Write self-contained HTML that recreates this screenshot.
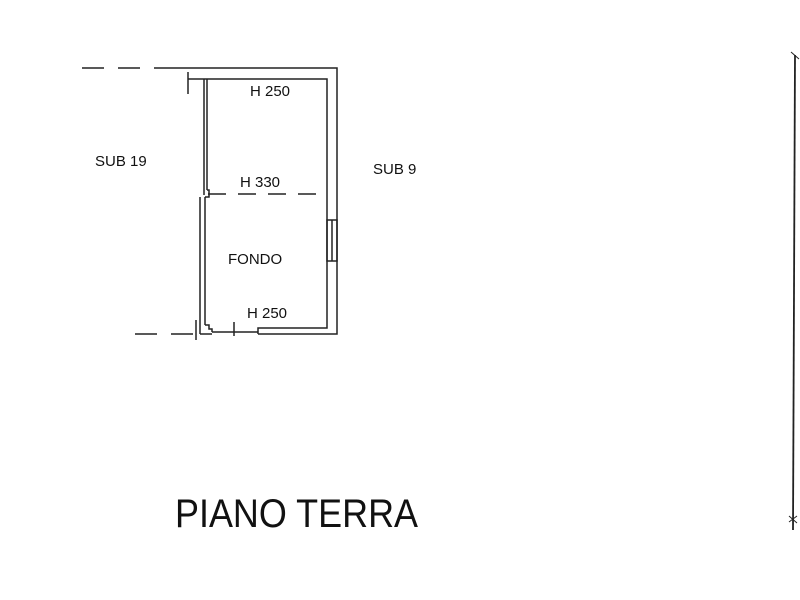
<!DOCTYPE html>
<html><head><style>
body{margin:0;background:#fff}
svg{display:block}
text{font-family:"Liberation Sans",Arial,sans-serif;fill:#111}
</style></head><body>
<svg width="800" height="600" viewBox="0 0 800 600" xmlns="http://www.w3.org/2000/svg">
<g stroke="#222" stroke-width="1.5" fill="none">
<!-- outer walls -->
<polyline points="165,68 337,68 337,334 258,334"/>
<polyline points="204,79 327,79 327,328 258,328 258,334"/>
<!-- left wall upper -->
<line x1="207" y1="79" x2="207" y2="190"/>
<line x1="204" y1="79" x2="204" y2="195"/>
<polyline points="207,190 209,190 209,197 205,197"/>
<line x1="200" y1="197" x2="200" y2="328"/>
<line x1="205" y1="197" x2="205" y2="325"/>
<polyline points="205,325 209,325 209,329 212,329 212,332"/>
<line x1="200" y1="328" x2="200" y2="334"/>
<line x1="200" y1="334" x2="212" y2="334"/>
<line x1="212" y1="332" x2="258" y2="332"/>
<line x1="234" y1="322" x2="234" y2="336"/>
<line x1="196" y1="320" x2="196" y2="340"/>
<!-- top left tick -->
<line x1="188" y1="72" x2="188" y2="94"/>
<line x1="188" y1="79" x2="204" y2="79"/>
<!-- window -->
<rect x="327" y="220" width="10" height="41"/>
<line x1="332" y1="220" x2="332" y2="261"/>
<!-- dashed lines -->
<line x1="82" y1="68" x2="165" y2="68" stroke-dasharray="22,14"/>
<line x1="135" y1="334" x2="196" y2="334" stroke-dasharray="22,14"/>
<line x1="208" y1="194" x2="327" y2="194" stroke-dasharray="18,12"/>
<!-- right line -->
<line x1="795" y1="55" x2="793" y2="530" stroke-width="1.8"/>
<line x1="791" y1="52" x2="799" y2="59" stroke-width="1"/>
<line x1="789" y1="516" x2="797" y2="523" stroke-width="1"/>
<line x1="789" y1="522" x2="797" y2="516" stroke-width="1"/>
</g>
<text x="250" y="96" font-size="15">H 250</text>
<text x="95" y="166" font-size="15">SUB 19</text>
<text x="373" y="174" font-size="15">SUB 9</text>
<text x="240" y="187" font-size="15">H 330</text>
<text x="228" y="264" font-size="15">FONDO</text>
<text x="247" y="318" font-size="15">H 250</text>
<text x="175" y="527" font-size="40" textLength="243" lengthAdjust="spacingAndGlyphs">PIANO TERRA</text>
</svg>
</body></html>
